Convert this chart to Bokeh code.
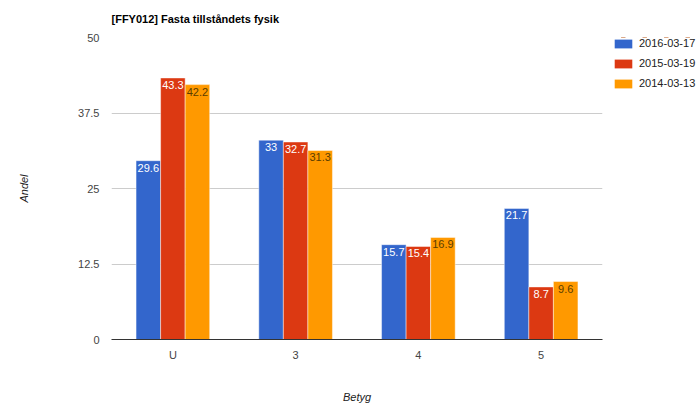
from bokeh.plotting import figure
from bokeh.layouts import row
from bokeh.models import (ColumnDataSource, FactorRange, Range1d, FixedTicker,
                          LabelSet, Legend, LegendItem)
from bokeh.core.properties import value
from bokeh.transform import dodge
from bokeh.embed import file_html
from bokeh.resources import INLINE

# ---- data ----
categories = ["U", "3", "4", "5"]
series_names = ["2016-03-17", "2015-03-19", "2014-03-13"]
values_2016 = [29.6, 33.0, 15.7, 21.7]
values_2015 = [43.3, 32.7, 15.4, 8.7]
values_2014 = [42.2, 31.3, 16.9, 9.6]
y_ticks = [0, 12.5, 25, 37.5, 50]
y_tick_labels = ["0", "12.5", "25", "37.5", "50"]

colors = ["#3366CC", "#DC3912", "#FF9900"]
label_colors = ["#ffffff", "#ffffff", "#5a3d00"]
FONT = "Liberation Sans"
FS = "11px"

source = ColumnDataSource(dict(
    cat=categories,
    v0=values_2016, v1=values_2015, v2=values_2014,
    t0=[f"{v:g}" for v in values_2016],
    t1=[f"{v:g}" for v in values_2015],
    t2=[f"{v:g}" for v in values_2014],
))

p = figure(
    x_range=FactorRange(factors=categories, range_padding=0),
    y_range=Range1d(0, 50),
    width=612, height=405,
    min_border_left=111, min_border_right=10,
    min_border_top=37, min_border_bottom=64,
    output_backend="svg", toolbar_location=None,
    title="[FFY012] Fasta tillståndets fysik",
)
p.outline_line_color = None
p.background_fill_color = "white"

p.title.text_font = FONT
p.title.text_font_size = "11px"
p.title.text_font_style = "bold"
p.title.text_color = "#000000"
p.title.align = "left"
p.title.vertical_align = "top"
p.title.standoff = 22

offsets = [-0.2, 0.0, 0.2]
for i in range(3):
    p.vbar(x=dodge("cat", offsets[i], range=p.x_range), top=f"v{i}",
           width=0.2, source=source, fill_color=colors[i],
           line_color="white", line_alpha=0.45, line_width=1)
    labels = LabelSet(x=dodge("cat", offsets[i], range=p.x_range), y=f"v{i}",
                      text=f"t{i}", source=source, text_align="center",
                      text_baseline="top", y_offset=-3,
                      text_font=value(FONT), text_font_size=value(FS),
                      text_color=value(label_colors[i]))
    p.add_layout(labels)

# axes
p.yaxis.ticker = FixedTicker(ticks=y_ticks)
p.yaxis.major_label_overrides = {t: l for t, l in zip(y_ticks, y_tick_labels)}
p.yaxis.axis_line_color = None
p.yaxis.major_tick_line_color = None
p.yaxis.minor_tick_line_color = None
p.yaxis.major_tick_out = 0
p.yaxis.major_tick_in = 0
p.yaxis.minor_tick_out = 0
p.yaxis.major_label_standoff = 12
p.yaxis.axis_label = "Andel"
p.yaxis.axis_label_standoff = 45

p.xaxis.axis_line_color = "#333333"
p.xaxis.major_tick_line_color = None
p.xaxis.minor_tick_line_color = None
p.xaxis.major_tick_out = 0
p.xaxis.major_tick_in = 0
p.xaxis.minor_tick_out = 0
p.xaxis.major_label_standoff = 9
p.xaxis.axis_label = "Betyg"
p.xaxis.axis_label_standoff = 27

for ax in (p.xaxis[0], p.yaxis[0]):
    ax.major_label_text_font = FONT
    ax.major_label_text_font_size = FS
    ax.major_label_text_color = "#444444"
    ax.axis_label_text_font = FONT
    ax.axis_label_text_font_size = FS
    ax.axis_label_text_font_style = "italic"
    ax.axis_label_text_color = "#222222"

p.xgrid.grid_line_color = None
p.ygrid.grid_line_color = "#cccccc"
p.ygrid.ticker = FixedTicker(ticks=y_ticks)

# ---- legend panel (separate small figure to the right) ----
# its bars lie outside its own (negative) y window, so only the legend shows
lg = figure(width=86, height=405,
            x_range=FactorRange(factors=categories), y_range=Range1d(-2, -1),
            min_border_left=0, min_border_right=0, min_border_top=37,
            min_border_bottom=0, x_axis_location=None, y_axis_location=None,
            output_backend="svg", toolbar_location=None)
lg.outline_line_color = None
lg.xgrid.visible = False
lg.ygrid.visible = False
items = []
for i in range(3):
    r = lg.vbar(x="cat", top=f"v{i}", width=0.2, source=source,
                fill_color=colors[i], line_color=None)
    items.append(LegendItem(label=series_names[i], renderers=[r]))

legend = Legend(
    items=items, location="top_left",
    border_line_color=None, background_fill_alpha=0,
    padding=0, margin=0, spacing=8,
    glyph_width=22, glyph_height=11, label_height=11,
    label_standoff=5, label_text_font=FONT, label_text_font_size=FS,
    label_text_color="#222222", label_text_baseline="middle",
)
lg.add_layout(legend)

layout = row(p, lg)
open("out.html", "w").write(file_html(layout, INLINE))
